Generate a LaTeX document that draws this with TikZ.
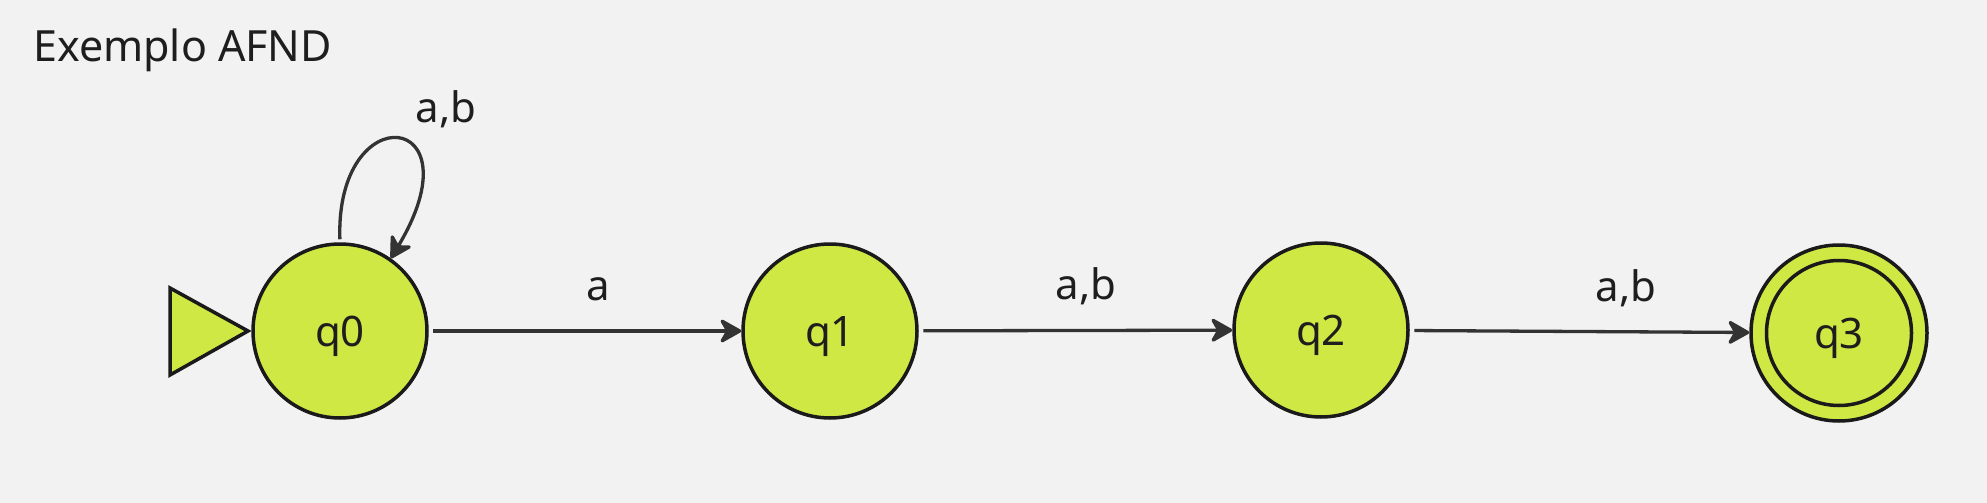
\documentclass[tikz,border=0pt]{standalone}
\usepackage{fontspec}
\setmainfont{Noto Sans}
\usetikzlibrary{arrows.meta}
\definecolor{bgc}{HTML}{F2F2F2}
\definecolor{statefill}{HTML}{CFE844}
\definecolor{stateline}{HTML}{1A1A1A}
\definecolor{edgec}{HTML}{333333}
\definecolor{textc}{HTML}{1E1E1E}
\tikzset{
  statenode/.style={circle, draw=stateline, fill=statefill, line width=3.5pt,
    minimum size=174pt, inner sep=0pt, text=textc, text height=30pt, text depth=0pt},
  edge/.style={draw=edgec, line width=3.3pt, shorten <=4.5pt,
    -{Stealth[length=25pt, width=28pt, inset=8pt, round]}},
  lbl/.style={anchor=base, text=textc, inner sep=0pt},
  startmark/.style={draw=stateline, fill=statefill, line width=3.5pt, line join=miter}
}
\begin{document}
\begin{tikzpicture}[x=1pt, y=-1pt, font=\fontsize{42pt}{50pt}\selectfont]
  \fill[bgc] (0,0) rectangle (1987,503);
  \useasboundingbox (0,0) rectangle (1987,503);

  \node[anchor=base west, text=textc, inner sep=0pt, font=\fontsize{43pt}{50pt}\selectfont] (title) at (33,62) {Exemplo AFND};

  \node[statenode] (q0) at (340,331) {q0};
  \node[statenode] (q1) at (830,331) {q1};
  \node[statenode] (q2) at (1321,330) {q2};
  \node[statenode, minimum size=176pt] (q3) at (1839,333) {q3};
  \draw[draw=stateline, line width=3.5pt] (q3.center) circle (72.5);

  \draw[startmark] (170,288) -- (170,375) -- (248,331) -- cycle;

  \draw[edge, shorten <=3pt] (q0.90) .. controls (335,95) and (480,110) .. (q0.55);
  \node[lbl] (l0) at (446,122) {a,b};

  \draw[edge] (q0) -- node[lbl, pos=0.543, yshift=31pt] (l1) {a} (q1);
  \draw[edge] (q1) -- node[lbl, pos=0.533, yshift=31pt] (l2) {a,b} (q2);
  \draw[edge] (q2) -- node[lbl, pos=0.637, yshift=30pt] (l3) {a,b} (q3);
\end{tikzpicture}
\end{document}
